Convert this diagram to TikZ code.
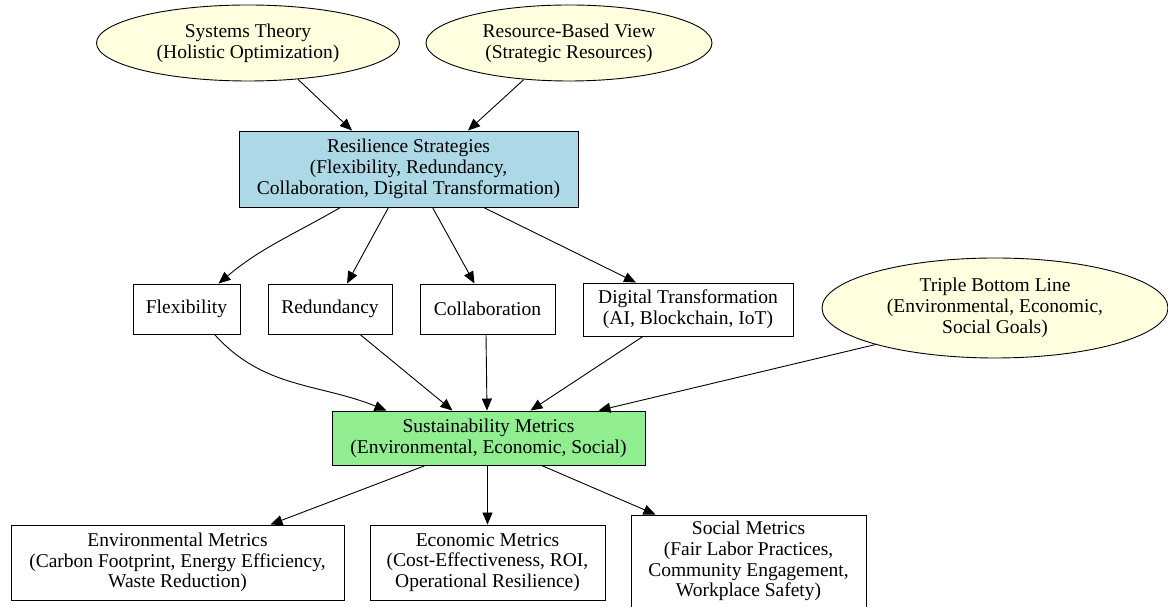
\documentclass[tikz,border=0pt]{standalone}
\usepackage{fontspec}
\setmainfont{Liberation Serif}
\usetikzlibrary{arrows.meta,shapes.geometric}
\definecolor{yellowfill}{HTML}{FFFFE0}
\definecolor{bluefill}{HTML}{ADD8E6}
\definecolor{greenfill}{HTML}{90EE90}
\begin{document}
\begin{tikzpicture}[x=1pt,y=1pt,
  every node/.style={font=\fontsize{19.5}{20.8}\selectfont, align=center, text=black},
  theory/.style={ellipse, draw, fill=yellowfill, inner sep=0pt, line width=0.9pt},
  box/.style={rectangle, draw, inner sep=0pt, line width=0.9pt},
  arr/.style={-{Triangle[length=12pt,width=10pt]}, line width=0.9pt}
]
\useasboundingbox (0,0) rectangle (1168,607);
\node[theory, minimum width=303, minimum height=76] (sys) at (248,564) {Systems Theory\\(Holistic Optimization)};
\node[theory, minimum width=286, minimum height=76] (rbv) at (569,564) {Resource-Based View\\(Strategic Resources)};
\node[box, fill=bluefill, minimum width=339, minimum height=76] (res) at (408.5,438) {Resilience Strategies\\(Flexibility, Redundancy,\\Collaboration, Digital Transformation)};
\node[box, minimum width=107, minimum height=50] (flex) at (186.5,298) {Flexibility};
\node[box, minimum width=124, minimum height=50] (red) at (330,298) {Redundancy};
\node[box, minimum width=135, minimum height=50] (col) at (487.5,298) {Collaboration};
\node[box, minimum width=210, minimum height=53] (dig) at (688,297.5) {Digital Transformation\\(AI, Blockchain, IoT)};
\node[theory, minimum width=346, minimum height=100] (tbl) at (995,299) {Triple Bottom Line\\(Environmental, Economic,\\Social Goals)};
\node[box, fill=greenfill, minimum width=313, minimum height=54] (sus) at (488.5,169) {Sustainability Metrics\\(Environmental, Economic, Social)};
\node[box, minimum width=333, minimum height=75] (env) at (177.5,44.5) {Environmental Metrics\\(Carbon Footprint, Energy Efficiency,\\Waste Reduction)};
\node[box, minimum width=235, minimum height=75] (eco) at (487.5,44.5) {Economic Metrics\\(Cost-Effectiveness, ROI,\\Operational Resilience)};
\node[box, minimum width=235, minimum height=92] (soc) at (748.5,46) {Social Metrics\\(Fair Labor Practices,\\Community Engagement,\\Workplace Safety)};

\draw[arr] (sys.-36.5) -- ([xshift=-56.5]res.north);
\draw[arr] (rbv.-141.8) -- ([xshift=59.5]res.north);
\draw[arr] ([xshift=-68]res.south) to[out=-150, in=40] ([xshift=32]flex.north);
\draw[arr] ([xshift=-20]res.south) -- ([xshift=17]red.north);
\draw[arr] ([xshift=24]res.south) -- ([xshift=-13]col.north);
\draw[arr] ([xshift=75]res.south) -- ([xshift=-52]dig.north);
\draw[arr] ([xshift=28]flex.south) to[out=-48, in=158] ([xshift=-102]sus.north);
\draw[arr] ([xshift=30]red.south) -- ([xshift=-36]sus.north);
\draw[arr] ([xshift=-1.5]col.south) -- ([xshift=-1.5]sus.north);
\draw[arr] ([xshift=-45]dig.south) -- ([xshift=42]sus.north);
\draw[arr] (tbl.-163.3) -- ([xshift=110]sus.north);
\draw[arr] ([xshift=-63]sus.south) -- ([xshift=93]env.north);
\draw[arr] ([xshift=-1]sus.south) -- (eco.north);
\draw[arr] ([xshift=53]sus.south) -- ([xshift=-93]soc.north);
\end{tikzpicture}
\end{document}
